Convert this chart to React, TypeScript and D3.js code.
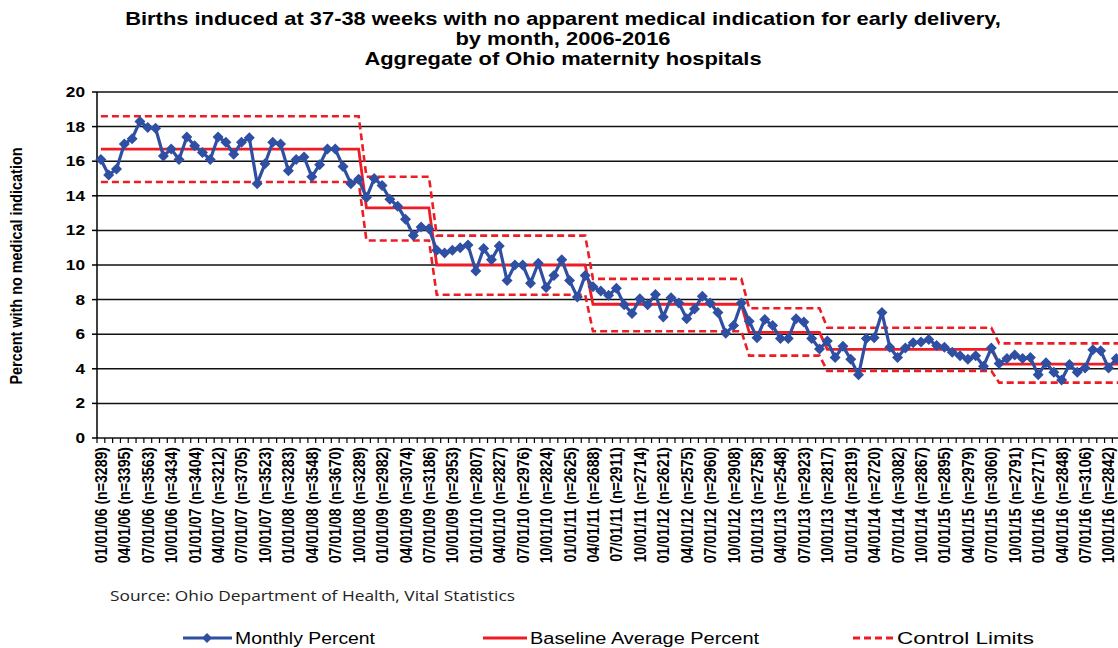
import * as d3 from "d3";

// monthly percent, Jan 2006 .. Dec 2016
const monthlyPercent = [
  16.1, 15.2, 15.55, 17.0, 17.3, 18.3, 17.95, 17.9, 16.3, 16.7, 16.1, 17.4,
  16.9, 16.5, 16.1, 17.4, 17.1, 16.4, 17.1, 17.35, 14.7, 15.85, 17.1, 17.0,
  15.45, 16.1, 16.25, 15.1, 15.8, 16.7, 16.7, 15.7, 14.7, 14.95, 13.9, 15.0,
  14.6, 13.8, 13.4, 12.65, 11.7, 12.2, 12.1, 10.85, 10.7, 10.85, 11.0, 11.15,
  9.65, 10.95, 10.3, 11.1, 9.1, 10.0, 10.0, 8.95, 10.1, 8.7, 9.4, 10.3,
  9.1, 8.15, 9.4, 8.75, 8.5, 8.25, 8.65, 7.7, 7.2, 8.05, 7.7, 8.3,
  7.0, 8.1, 7.8, 6.9, 7.45, 8.2, 7.8, 7.25, 6.05, 6.5, 7.8, 6.75,
  5.8, 6.85, 6.5, 5.75, 5.75, 6.9, 6.7, 5.75, 5.15, 5.6, 4.65, 5.3,
  4.55, 3.65, 5.75, 5.8, 7.25, 5.25, 4.65, 5.2, 5.5, 5.55, 5.7, 5.35,
  5.25, 4.95, 4.75, 4.55, 4.75, 4.15, 5.2, 4.3, 4.6, 4.8, 4.6, 4.65,
  3.65, 4.35, 3.8, 3.35, 4.25, 3.8, 4.05, 5.1, 5.05, 4.05, 4.6, 4.75,
];

// baseline periods: first month index, centre line, control limits
const periodStart = [0, 34, 43, 63, 83, 93, 115];
const periodCenter = [16.7, 13.3, 10.0, 7.73, 6.1, 5.12, 4.27];
const periodUCL = [18.6, 15.1, 11.7, 9.2, 7.5, 6.37, 5.47];
const periodLCL = [14.8, 11.42, 8.28, 6.17, 4.76, 3.88, 3.2];

// births per quarter shown in the axis labels
const quarterN = [
  3289, 3395, 3563, 3434, 3404, 3212, 3705, 3523, 3283, 3548, 3670, 3289,
  2982, 3074, 3186, 2953, 2807, 2827, 2976, 2824, 2625, 2688, 2911, 2714,
  2621, 2575, 2960, 2908, 2758, 2548, 2923, 2817, 2819, 2720, 3082, 2867,
  2895, 2979, 3060, 2791, 2717, 2848, 3106, 2842,
];

const yTicks = [0, 2, 4, 6, 8, 10, 12, 14, 16, 18, 20];

const BLUE = "#2f4fa3";
const RED = "#ee1c25";
const FONT = "'Liberation Sans', Arial, sans-serif";

const W = 1118;
const H = 648;
const plot = { left: 97, top: 92, bottom: 438, right: 1128 };
const SX = 1.23; // the source image is stretched sideways

export default function App() {
  const months = d3.timeMonth.range(new Date(2006, 0, 1), new Date(2017, 0, 1));
  const fmt = d3.timeFormat("%m/%d/%y");

  const x = d3
    .scalePoint<number>()
    .domain(d3.range(monthlyPercent.length))
    .range([plot.left, plot.right])
    .padding(0.5);
  const step = x.step();
  const y = d3.scaleLinear().domain([0, 20]).range([plot.bottom, plot.top]);

  const periodOf = (i: number) => d3.bisectRight(periodStart, i) - 1;
  const idx = d3.range(monthlyPercent.length);

  const mk = (f: (i: number) => number) =>
    d3.line<number>().x((i) => x(i)!).y((i) => y(f(i)))(idx)!;

  const monthlyPath = mk((i) => monthlyPercent[i]);
  const centerPath = mk((i) => periodCenter[periodOf(i)]);
  const uclPath = mk((i) => periodUCL[periodOf(i)]);
  const lclPath = mk((i) => periodLCL[periodOf(i)]);

  const diamond = (cx: number, cy: number, r: number) =>
    `M${cx},${cy - r}L${cx + r},${cy}L${cx},${cy + r}L${cx - r},${cy}Z`;

  const tickBounds = d3.range(monthlyPercent.length + 1).map((i) => plot.left + i * step);

  return (
    <div style={{ position: "absolute", left: 0, top: 0 }}>
      <svg width={W} height={H} style={{ display: "block", background: "#fff" }} fontFamily={FONT}>
        {/* title */}
        <g fontWeight="bold" fontSize={17.5} textAnchor="middle" fill="#000" transform={`translate(563,0) scale(${SX + 0.02},1)`}>
          <text x={0} y={25}>
            Births induced at 37-38 weeks with no apparent medical indication for early delivery,
          </text>
          <text x={0} y={45}>by month, 2006-2016</text>
          <text x={0} y={65}>Aggregate of Ohio maternity hospitals</text>
        </g>

        {/* gridlines */}
        {yTicks.map((t) => (
          <line key={t} x1={plot.left} x2={W} y1={y(t)} y2={y(t)} stroke="#111" strokeWidth={1.5} />
        ))}

        {/* y axis */}
        <line x1={plot.left} x2={plot.left} y1={plot.top} y2={plot.bottom} stroke="#000" strokeWidth={1.5} />
        {yTicks.map((t) => (
          <g key={t}>
            <line x1={plot.left - 5} x2={plot.left} y1={y(t)} y2={y(t)} stroke="#000" strokeWidth={1.5} />
            <text
              transform={`translate(85,${y(t)}) scale(${SX},1)`}
              dy="0.35em"
              textAnchor="end"
              fontWeight="bold"
              fontSize={14}
            >
              {t}
            </text>
          </g>
        ))}
        <text
          transform={`translate(22,${(plot.top + plot.bottom) / 2 + 1}) rotate(-90) scale(1.03,${SX})`}
          textAnchor="middle"
          fontWeight="bold"
          fontSize={14}
        >
          Percent with no medical indication
        </text>

        {/* x axis ticks */}
        {tickBounds.map((tx, i) => (
          <line key={i} x1={tx} x2={tx} y1={plot.bottom} y2={plot.bottom + 5} stroke="#000" strokeWidth={1.2} />
        ))}
        {quarterN.map((n, q) => {
          const i = q * 3;
          return (
            <text
              key={q}
              transform={`translate(${x(i)! + 6},${plot.bottom + 9}) rotate(-90) scale(1,${SX})`}
              textAnchor="end"
              fontWeight="bold"
              fontSize={14.1}
            >
              {`${fmt(months[i])} (n=${n})`}
            </text>
          );
        })}

        {/* control limits */}
        <path d={uclPath} fill="none" stroke={RED} strokeWidth={2.6} strokeDasharray="7,4" />
        <path d={lclPath} fill="none" stroke={RED} strokeWidth={2.6} strokeDasharray="7,4" />
        {/* baseline average */}
        <path d={centerPath} fill="none" stroke={RED} strokeWidth={2.8} />

        {/* monthly percent */}
        <path d={monthlyPath} fill="none" stroke={BLUE} strokeWidth={3.2} strokeLinejoin="round" />
        {idx.map((i) => (
          <path key={i} d={diamond(x(i)!, y(monthlyPercent[i]), 5.5)} fill={BLUE} />
        ))}

        {/* source */}
        <text x={110} y={601} fontFamily="'Open Sans', sans-serif" fontSize={14} fill="#222" textLength={405} lengthAdjust="spacingAndGlyphs">
          Source: Ohio Department of Health, Vital Statistics
        </text>

        {/* legend */}
        <g fontSize={16} fill="#000">
          <line x1={183} x2={232} y1={638} y2={638} stroke={BLUE} strokeWidth={3} />
          <path d={diamond(207, 638, 5)} fill={BLUE} />
          <text x={235} y={644} textLength={140} lengthAdjust="spacingAndGlyphs">Monthly Percent</text>

          <line x1={483} x2={527} y1={638} y2={638} stroke={RED} strokeWidth={3} />
          <text x={530} y={644} textLength={229} lengthAdjust="spacingAndGlyphs">Baseline Average Percent</text>

          <line x1={853} x2={895} y1={638} y2={638} stroke={RED} strokeWidth={3} strokeDasharray="7,4" />
          <text x={897} y={644} textLength={137} lengthAdjust="spacingAndGlyphs">Control Limits</text>
        </g>
      </svg>
    </div>
  );
}
